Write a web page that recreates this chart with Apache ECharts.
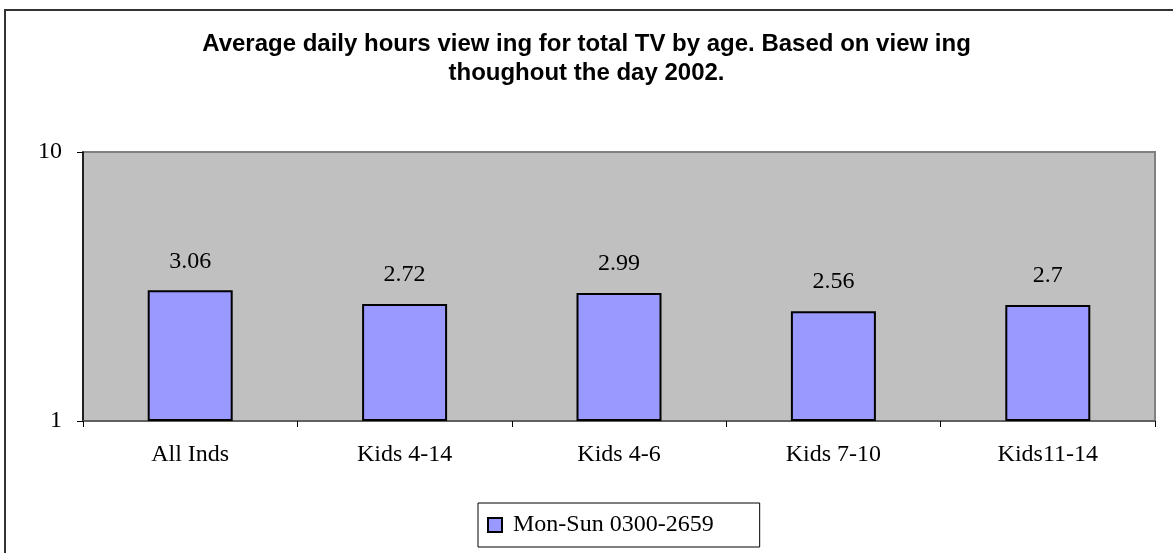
<!DOCTYPE html>
<html>
<head>
<meta charset="utf-8">
<script src="https://cdn.jsdelivr.net/npm/echarts@6/dist/echarts.min.js"></script>
<style>
html,body{margin:0;padding:0;background:#fff;}
#chart{width:1173px;height:553px;}
</style>
</head>
<body>
<div id="chart"></div>
<script>
var titleText = 'Average daily hours view ing for total TV by age. Based on view ing\nthoughout the day 2002.';
var categories = ['All Inds', 'Kids 4-14', 'Kids 4-6', 'Kids 7-10', 'Kids11-14'];
var seriesName = 'Mon-Sun 0300-2659';
var values = [3.06, 2.72, 2.99, 2.56, 2.7];
var yMin = 1;
var yMax = 10;

var serif = '"Liberation Serif", "Times New Roman", serif';
var chart = echarts.init(document.getElementById('chart'));
chart.setOption({
  animation: false,
  backgroundColor: '#ffffff',
  title: {
    text: titleText,
    left: 'center',
    top: 30,
    padding: 0,
    textStyle: {
      fontFamily: '"Liberation Sans", Arial, sans-serif',
      fontWeight: 'bold',
      fontSize: 24,
      lineHeight: 29,
      color: '#000'
    }
  },
  graphic: [{
    type: 'rect',
    silent: true,
    shape: {x: 5, y: 10, width: 1400, height: 800},
    style: {fill: 'none', stroke: '#333', lineWidth: 2},
    z: -1
  }],
  grid: {
    left: 83,
    right: 18,
    top: 152,
    bottom: 132,
    show: true,
    backgroundColor: '#C0C0C0',
    borderColor: '#808080',
    borderWidth: 2
  },
  legend: {
    data: [seriesName],
    left: 478,
    top: 503,
    padding: [10, 46, 10, 9],
    borderColor: '#000',
    borderWidth: 1,
    itemWidth: 14,
    itemHeight: 14,
    icon: 'rect',
    textStyle: {fontFamily: serif, fontSize: 24, color: '#000', padding: [0, 0, 0, 6]}
  },
  xAxis: {
    type: 'category',
    data: categories,
    boundaryGap: true,
    axisLine: {lineStyle: {color: '#555', width: 1.5}},
    axisTick: {show: true, length: 6, lineStyle: {color: '#000'}},
    axisLabel: {fontFamily: serif, fontSize: 24, color: '#000', margin: 22}
  },
  yAxis: {
    type: 'log',
    logBase: 10,
    min: yMin,
    max: yMax,
    axisLine: {show: true, lineStyle: {color: '#000', width: 1.5}},
    axisTick: {show: true, length: 6, lineStyle: {color: '#000'}},
    splitLine: {show: false},
    axisLabel: {fontFamily: serif, fontSize: 24, color: '#000', margin: 21}
  },
  series: [{
    name: seriesName,
    type: 'bar',
    data: values,
    barWidth: 85,
    itemStyle: {color: '#9999FF', borderColor: '#000', borderWidth: 2},
    label: {
      show: true,
      position: 'top',
      distance: 17,
      fontFamily: serif,
      fontSize: 24,
      color: '#000'
    }
  }]
});
</script>
</body>
</html>
